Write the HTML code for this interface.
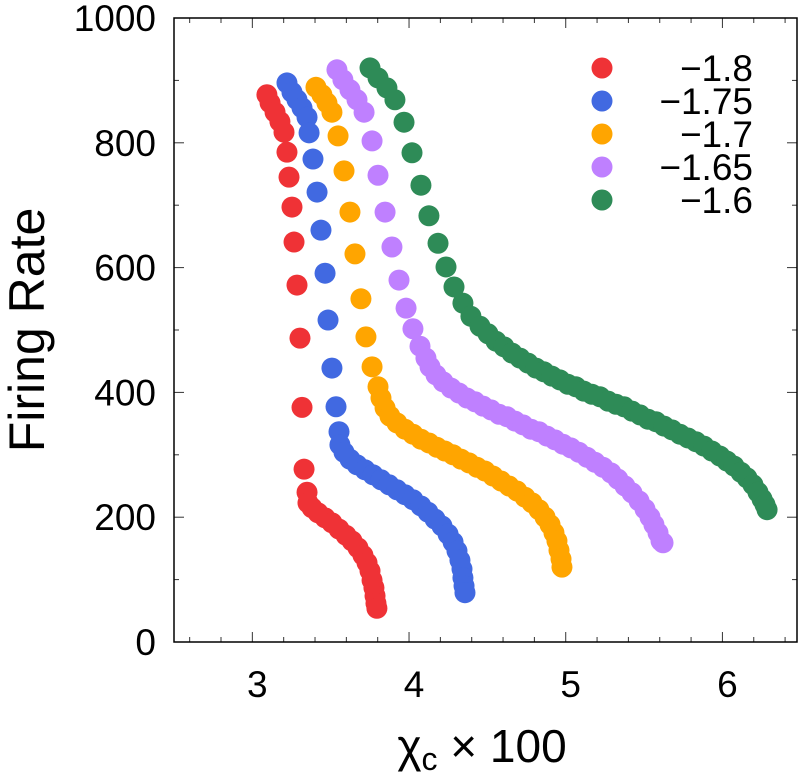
<!DOCTYPE html>
<html><head><meta charset="utf-8"><style>
html,body{margin:0;padding:0;background:#fff;}
svg{display:block;font-family:"Liberation Sans",Arial,sans-serif;}
</style></head><body>
<svg id="chart" width="801" height="774" viewBox="0 0 801 774"></svg>
<script>
const xTicks=[3,4,5,6];
const yTicks=[0,200,400,600,800,1000];
const seriesLabels=["\u22121.8","\u22121.75","\u22121.7","\u22121.65","\u22121.6"];
const seriesColors=["#ef3236","#4169e1","#ffa500","#bf80ff","#2e8b57"];
const redX=[3.093,3.113,3.145,3.176,3.202,3.221,3.234,3.253,3.266,3.285,3.304,3.317,3.33,3.349,3.355,3.381,3.419,3.464,3.508,3.553,3.598,3.636,3.674,3.706,3.732,3.751,3.764,3.776,3.783,3.789,3.795];
const redY=[877,864,849,834,817,785,745,697,641,572,487,376,277,240,223,215,207,199,191,181,171,162,151,139,127,114,99,87,74,62,54];
const blueX=[3.221,3.253,3.285,3.317,3.349,3.362,3.387,3.413,3.438,3.464,3.483,3.508,3.534,3.553,3.559,3.585,3.623,3.668,3.719,3.770,3.821,3.872,3.923,3.974,4.025,4.076,4.121,4.166,4.210,4.249,4.281,4.306,4.325,4.338,4.344,4.351,4.357];
const blueY=[896,881,869,856,841,816,774,721,660,591,516,439,377,337,316,304,293,284,276,268,260,252,244,236,228,218,208,197,186,173,160,146,131,117,103,90,79];
const orangeX=[3.406,3.444,3.476,3.508,3.547,3.585,3.623,3.655,3.693,3.725,3.764,3.802,3.821,3.847,3.878,3.923,3.974,4.025,4.076,4.127,4.178,4.229,4.281,4.332,4.383,4.434,4.485,4.536,4.587,4.638,4.689,4.740,4.785,4.829,4.868,4.900,4.925,4.944,4.957,4.970,4.976];
const orangeY=[889,877,864,849,811,755,689,622,550,489,441,409,391,375,362,351,341,333,325,319,312,306,300,293,287,280,274,266,258,250,242,232,223,212,200,188,175,162,147,133,120];
const purpleX=[3.540,3.578,3.623,3.668,3.713,3.764,3.802,3.847,3.891,3.936,3.981,4.025,4.070,4.108,4.134,4.172,4.217,4.268,4.319,4.370,4.421,4.472,4.523,4.574,4.625,4.676,4.727,4.778,4.829,4.880,4.931,4.982,5.033,5.084,5.136,5.187,5.238,5.289,5.333,5.378,5.423,5.468,5.506,5.538,5.563,5.589,5.608,5.621];
const purpleY=[917,901,885,869,849,803,748,689,633,580,535,502,474,455,441,428,417,407,399,391,385,378,372,365,361,354,348,341,337,330,324,317,311,304,296,288,280,271,261,250,239,226,213,200,188,175,162,159];
const greenX=[3.751,3.802,3.859,3.910,3.968,4.019,4.076,4.127,4.185,4.236,4.287,4.344,4.395,4.453,4.504,4.555,4.606,4.657,4.708,4.759,4.810,4.861,4.912,4.963,5.014,5.065,5.116,5.168,5.219,5.270,5.321,5.372,5.423,5.474,5.525,5.576,5.627,5.678,5.729,5.780,5.831,5.882,5.933,5.984,6.029,6.074,6.118,6.157,6.195,6.227,6.253,6.272,6.285];
const greenY=[920,904,888,869,833,784,732,683,639,601,569,543,522,506,494,482,473,463,455,447,439,433,426,420,413,409,402,397,393,386,381,377,370,364,357,353,346,340,333,327,321,314,306,298,290,282,272,263,252,240,229,220,212];

const NS="http://www.w3.org/2000/svg";
const svg=document.getElementById('chart');
const L=174,R=797,T=18,B=642,XMIN=2.5,XMAX=6.476,YMIN=0,YMAX=1000;
function sx(v){return L+(v-XMIN)/(XMAX-XMIN)*(R-L);}
function sy(v){return B-(v-YMIN)/(YMAX-YMIN)*(B-T);}
function mk(tag,attrs){const e=document.createElementNS(NS,tag);for(const k in attrs)e.setAttribute(k,attrs[k]);return e;}

const gT=mk('g',{stroke:'#333','stroke-width':1});


svg.appendChild(gT);
for(let v=2.6;v<XMAX;v+=0.2){
  const x=sx(v);const major=Math.abs(v-Math.round(v))<0.01;const len=major?10:5;
  gT.appendChild(mk('line',{x1:x,y1:B,x2:x,y2:B-len}));
  gT.appendChild(mk('line',{x1:x,y1:T,x2:x,y2:T+len}));
}
for(let v=100;v<YMAX;v+=100){
  const y=sy(v);const major=v%200===0;const len=major?10:5;
  gT.appendChild(mk('line',{x1:L,y1:y,x2:L+len,y2:y}));
  gT.appendChild(mk('line',{x1:R,y1:y,x2:R-len,y2:y}));
}
const frame=mk('rect',{x:L,y:T,width:R-L,height:B-T,fill:'none',stroke:'#000','stroke-width':1.5});


svg.appendChild(frame);

xTicks.forEach(v=>{
  const t=mk('text',{x:sx(v)+5,y:697,'font-size':37,'text-anchor':'middle',fill:'#000'});
  t.textContent=v;
  
  
  svg.appendChild(t);
});
yTicks.forEach(v=>{
  const t=mk('text',{x:156,y:sy(v)+13,'font-size':37,'text-anchor':'end',fill:'#000'});
  t.textContent=v;
  
  
  svg.appendChild(t);
});

const allX=[redX,blueX,orangeX,purpleX,greenX];
const allY=[redY,blueY,orangeY,purpleY,greenY];
const names=['series-neg-1-8','series-neg-1-75','series-neg-1-7','series-neg-1-65','series-neg-1-6'];
allX.forEach((xs,i)=>{
  const g=mk('g',{fill:seriesColors[i]});
  
  
  svg.appendChild(g);
  xs.forEach((xv,j)=>{
    const c=mk('circle',{cx:sx(xv),cy:sy(allY[i][j]),r:10.5});
    
    
    g.appendChild(c);
  });
});

const lg=mk('g',{});


svg.appendChild(lg);
seriesLabels.forEach((lab,i)=>{
  const y=68+i*33;
  const c=mk('circle',{cx:602,cy:y,r:10.5,fill:seriesColors[i]});
  
  
  lg.appendChild(c);
  const t=mk('text',{x:753,y:y+13,'font-size':37,'text-anchor':'end',fill:'#000'});
  t.textContent=lab;
  
  
  lg.appendChild(t);
});
</script>
<div style="position:absolute;left:0;top:0;width:801px;height:774px;pointer-events:none">
<svg width="801" height="774" style="position:absolute;left:0;top:0">
<text x="0" y="0" transform="translate(44,330) rotate(-90)" font-family="Liberation Sans, Arial, sans-serif" font-size="50" text-anchor="middle" fill="#000">Firing Rate</text>
<text x="482" y="762" font-family="Liberation Sans, DejaVu Sans, sans-serif" font-size="46" text-anchor="middle" fill="#000">χ<tspan font-size="32" dy="8">c</tspan><tspan dy="-8"> × 100</tspan></text>
</svg>
</div>
</body></html>
